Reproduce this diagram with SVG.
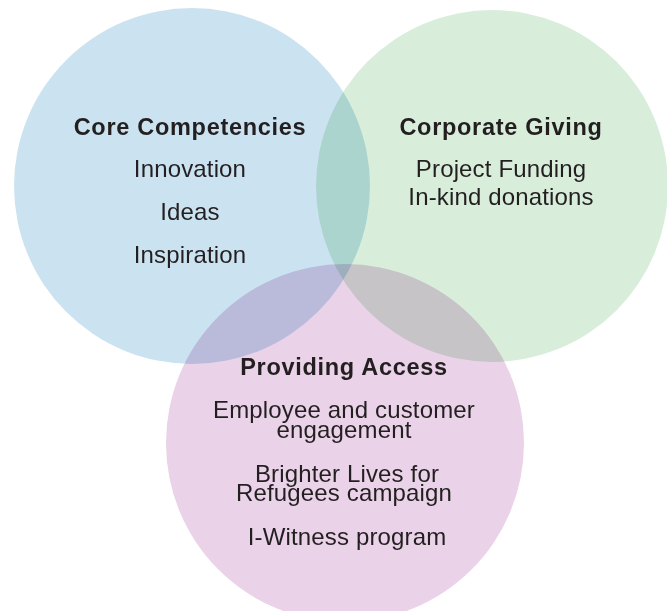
<svg xmlns="http://www.w3.org/2000/svg" width="667" height="611" viewBox="0 0 667 611">
<style>
.c{mix-blend-mode:multiply}
text{font-family:"Liberation Sans",Arial,sans-serif;fill:#231f20;text-anchor:middle;font-size:24px;letter-spacing:0.15px}
.t{font-weight:bold;font-size:23.5px;letter-spacing:0.7px}
</style>
<rect width="667" height="611" fill="#ffffff"/>
<g id="core-competencies">
<circle class="c" cx="192" cy="186" r="178" fill="#cbe3f1"/>
</g>
<g id="corporate-giving">
<circle class="c" cx="492" cy="186" r="176" fill="#d8eedb"/>
</g>
<g id="providing-access">
<circle class="c" cx="345" cy="443" r="179" fill="#ead2e8"/>
</g>
<g id="labels-core">
<text class="t" x="190" y="135">Core Competencies</text>
<text x="190" y="177">Innovation</text>
<text x="190" y="220">Ideas</text>
<text x="190" y="263">Inspiration</text>
</g>
<g id="labels-giving">
<text class="t" x="501" y="135">Corporate Giving</text>
<text x="501" y="177">Project Funding</text>
<text x="501" y="205">In-kind donations</text>
</g>
<g id="labels-access">
<text class="t" x="344" y="375">Providing Access</text>
<text x="344" y="418">Employee and customer</text>
<text x="344" y="438">engagement</text>
<text x="347" y="482">Brighter Lives for</text>
<text x="344" y="501">Refugees campaign</text>
<text x="347" y="545">I-Witness program</text>
</g>
<g id="connectors"></g>
</svg>
